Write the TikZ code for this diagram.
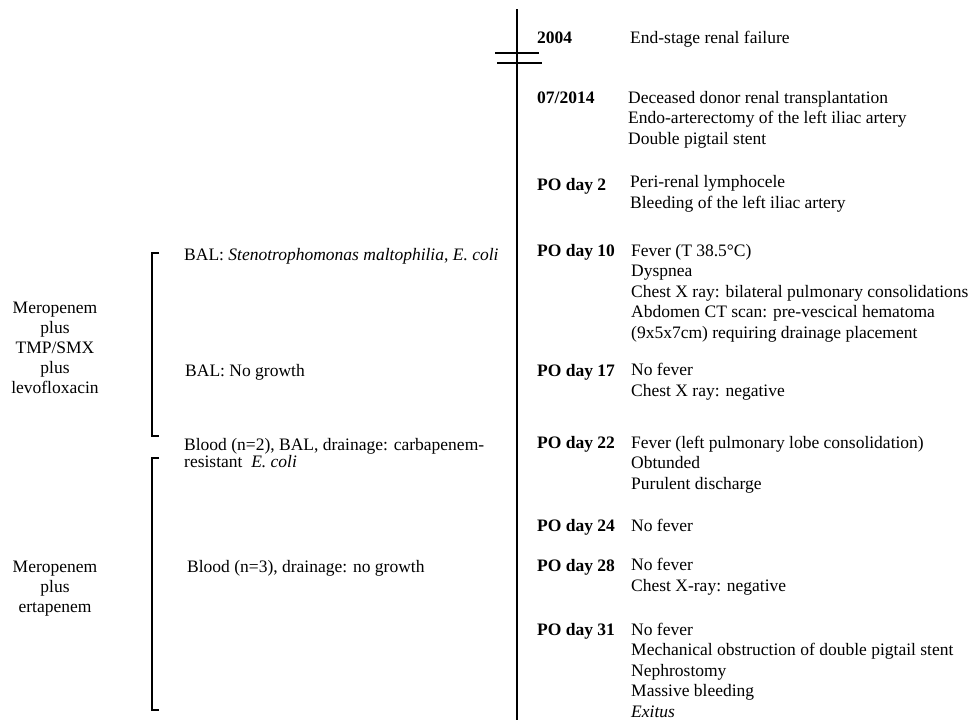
\documentclass[tikz,border=0pt]{standalone}
\usepackage{fontspec}
\setmainfont{Liberation Serif}
\tikzset{
  dateLbl/.style={anchor=mid west,inner sep=0pt,font=\fontsize{17.5}{20.5}\selectfont\bfseries},
  eventTxt/.style={anchor=mid west,inner sep=0pt,align=left,font=\fontsize{17.5}{20.5}\selectfont},
  cultureTxt/.style={anchor=mid west,inner sep=0pt,align=left,font=\fontsize{17.5}{17}\selectfont},
  drugTxt/.style={inner sep=0pt,align=center,font=\fontsize{17.5}{20}\selectfont},
  axisLine/.style={line width=2.8pt},
  brk/.style={line width=2.4pt,line cap=butt}
}

\begin{document}
\begin{tikzpicture}[x=1pt,y=-1pt]
  \useasboundingbox (0,0) rectangle (973,720);
  % timeline with break
  \coordinate (top) at (517,9);
  \coordinate (bot) at (517,720);
  \draw[axisLine] (top) -- (bot);
  \draw[brk] (495,53) -- (539,53);
  \draw[brk] (497,63) -- (542,63);

  % dates (y = line centre)
  \node[dateLbl] (d0) at (537,41) {2004};
  \node[dateLbl] (d1) at (537,101) {07/2014};
  \node[dateLbl] (d2) at (537,188) {PO day 2};
  \node[dateLbl] (d3) at (537,254) {PO day 10};
  \node[dateLbl] (d4) at (537,374) {PO day 17};
  \node[dateLbl] (d5) at (537,446) {PO day 22};
  \node[dateLbl] (d6) at (537,529) {PO day 24};
  \node[dateLbl] (d7) at (537,569) {PO day 28};
  \node[dateLbl] (d8) at (537,633) {PO day 31};

  % events (y = last line)
  \node[eventTxt] (e0) at (630,41) {End-stage renal failure};
  \node[eventTxt] (e1) at (628,142) {Deceased donor renal transplantation\\Endo-arterectomy of the left iliac artery\\Double pigtail stent};
  \node[eventTxt] (e2) at (630,206) {Peri-renal lymphocele\\Bleeding of the left iliac artery};
  \node[eventTxt] (e3) at (631,336) {Fever (T 38.5°C)\\Dyspnea\\Chest X ray: bilateral pulmonary consolidations\\Abdomen CT scan: pre-vescical hematoma\\(9x5x7cm) requiring drainage placement};
  \node[eventTxt] (e4) at (631,394) {No fever\\Chest X ray: negative};
  \node[eventTxt] (e5) at (631,487) {Fever (left pulmonary lobe consolidation)\\Obtunded\\Purulent discharge};
  \node[eventTxt] (e6) at (631,529) {No fever};
  \node[eventTxt] (e7) at (631,589) {No fever\\Chest X-ray: negative};
  \node[eventTxt] (e8) at (631,715) {No fever\\Mechanical obstruction of double pigtail stent\\Nephrostomy\\Massive bleeding\\\textit{Exitus}};

  % cultures
  \node[cultureTxt] (c1) at (184,258) {BAL: \textit{Stenotrophomonas maltophilia}, \textit{E. coli}};
  \node[cultureTxt] (c2) at (185,374) {BAL: No growth};
  \node[cultureTxt] (c3) at (184,465) {Blood (n=2), BAL, drainage: carbapenem-\\resistant \ \textit{E. coli}};
  \node[cultureTxt] (c4) at (187,570) {Blood (n=3), drainage: no growth};

  % therapy brackets
  \draw[axisLine] (159,253) -- (152,253) -- (152,436) -- (159,436);
  \draw[axisLine] (159,458) -- (152,458) -- (152,710) -- (159,710);
  \node[drugTxt] (t1) at (55,348) {Meropenem\\plus\\TMP/SMX\\plus\\levofloxacin};
  \node[drugTxt] (t2) at (55,589) {Meropenem\\plus\\ertapenem};
\end{tikzpicture}
\end{document}
